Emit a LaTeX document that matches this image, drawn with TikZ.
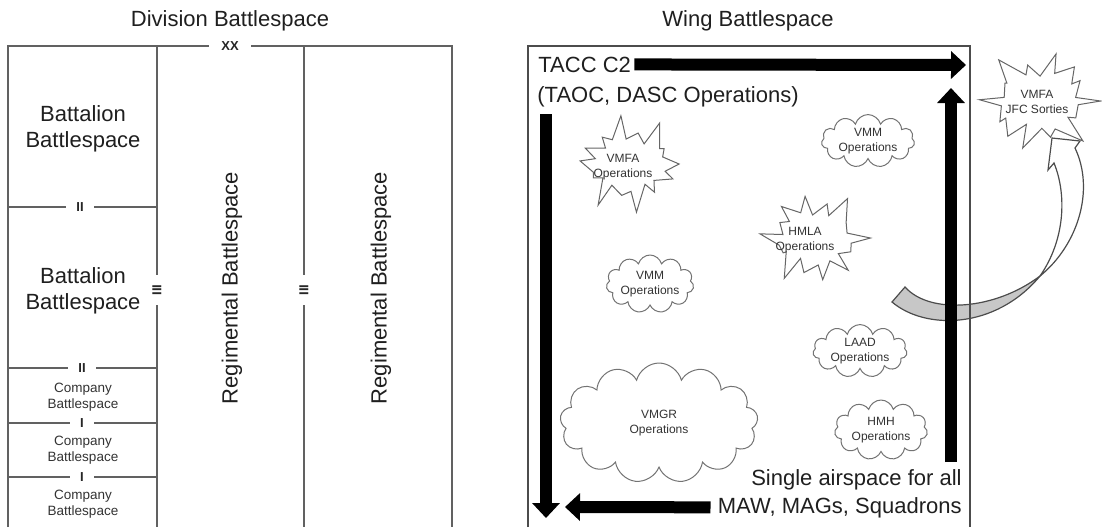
\documentclass[tikz,border=0pt]{standalone}
\usepackage{fontspec}
\setmainfont{Liberation Sans}
\usetikzlibrary{arrows.meta,shapes.symbols}
\newcommand\burstpoly[5]{%
  \draw[burstline,shift={(#1,#2)}] ({#3*(0.84+0.16*sin(#5))},0)
   \foreach \k [evaluate=\k as \ang using {\k*360/28+5*sin(\k*131+#5)},
                evaluate=\k as \fx using {ifthenelse(mod(\k,2)==0,0.82+0.18*sin(\k*77+#5),0.62+0.05*sin(\k*59+#5))},
                evaluate=\k as \fy using {ifthenelse(mod(\k,2)==0,0.82+0.18*sin(\k*77+#5),0.50+0.05*sin(\k*59+#5))}]
   in {1,...,27} { -- ({#3*\fx*cos(\ang)},{#4*\fy*sin(\ang)}) } -- cycle;}
\begin{document}
\begin{tikzpicture}[x=0.5pt,y=-0.5pt,
  divline/.style={draw=black!62,line width=1pt},
  boxline/.style={draw=black!70,line width=0.75pt},
  lvl/.style={fill=white,inner xsep=5pt,inner ysep=1pt,text=black!85,font=\fontsize{6.5}{7}\selectfont\bfseries},
  big/.style={text=black!88,font=\fontsize{11}{13}\selectfont,align=center},
  comp/.style={text=black!80,font=\fontsize{6.75}{8}\selectfont,align=center},
  tag/.style={text=black!80,font=\fontsize{6}{7.5}\selectfont,align=center,inner sep=0},
  puff/.style={cloud,cloud puffs=11,cloud ignores aspect,draw=black!55,line width=0.5pt,fill=white,inner sep=0},
  burstline/.style={draw=black!60,line width=0.5pt,fill=white,line join=miter},
  fat/.style={line width=6pt,-{Triangle[width=13.5pt,length=7.5pt]}},
  crescent/.style={fill=black!22,draw=black!70,line width=0.6pt},
  whitearr/.style={fill=white,draw=black!70,line width=0.6pt},
]
\useasboundingbox (0,0) rectangle (1102,527);

% ---------------- Division battlespace ----------------
\node[big] (divt) at (230,21) {Division Battlespace};
\draw[divline] (8,527) -- (8,46) -- (452,46) -- (452,527);
\draw[divline] (157,46) -- (157,527);
\draw[divline] (304,46) -- (304,527);
\foreach \yy in {207,368,423,477} \draw[divline] (8,\yy) -- (157,\yy);

\node[lvl,inner xsep=6pt] (xx) at (230,46) {XX};
\node[lvl] (ii1) at (80,207) {II};
\node[lvl] (ii2) at (82,368) {II};
\node[lvl] (i1) at (82,423) {I};
\node[lvl] (i2) at (82,477) {I};
\node[lvl,rotate=90] (iii1) at (157,290) {III};
\node[lvl,rotate=90] (iii2) at (304,290) {III};

\node[big] (bat1) at (83,129) {Battalion\\Battlespace};
\node[big] (bat2) at (83,291) {Battalion\\Battlespace};
\node[comp] (co1) at (83,397) {Company\\Battlespace};
\node[comp] (co2) at (83,450) {Company\\Battlespace};
\node[comp] (co3) at (83,504) {Company\\Battlespace};
\node[big,rotate=90] (reg1) at (232,288) {Regimental Battlespace};
\node[big,rotate=90] (reg2) at (381,288) {Regimental Battlespace};

% ---------------- Wing battlespace ----------------
\node[big] (wingt) at (748,21) {Wing Battlespace};

% curved block arrow out of the box
\draw[crescent] (892,302) .. controls (925,330) and (995,330) .. (1040,276)
   .. controls (995,310) and (930,315) .. (905,287) -- cycle;
\draw[whitearr] (1040,276) .. controls (1078,245) and (1095,190) .. (1075,148)
   -- (1080,141) -- (1052,138) -- (1048,170) -- (1054,163)
   .. controls (1067,195) and (1065,240) .. (1040,276) -- cycle;

\draw[boxline] (528,527) -- (528,46) -- (970,46) -- (970,527);

\node[big,anchor=base west,inner sep=0] (tacc) at (538,72) {TACC C2};
\node[big,anchor=base west,inner sep=0] (taoc) at (537,102) {(TAOC, DASC Operations)};
\node[big,anchor=base east,inner sep=0] (single) at (962,485) {Single airspace for all};
\node[big,anchor=base east,inner sep=0] (maw) at (962,513) {MAW, MAGs, Squadrons};

\coordinate (topend) at (966,65);
\coordinate (upfoot) at (951,462);
\coordinate (uptip) at (951,88);
\coordinate (dnhead) at (546,114);
\coordinate (dntip) at (546,518);
\coordinate (lefttip) at (565,507);
\draw[fat] ([xshift=1.5pt]tacc.east) -- (topend);
\draw[fat] (upfoot) -- (uptip);
\draw[fat] (dnhead) -- (dntip);
\draw[fat] ([xshift=-3.5pt]maw.west) -- (lefttip);

% starbursts
\burstpoly{629}{164}{56}{50}{20}
\node[tag] (vmfa) at (623,167) {VMFA\\Operations};
\burstpoly{815}{238}{56}{50}{70}
\node[tag] (hmla) at (805,240) {HMLA\\Operations};
\burstpoly{1040}{101}{63}{55}{130}
\node[tag] (jfc) at (1037,102) {VMFA\\JFC Sorties};

% clouds
\node[puff,tag,minimum width=46.5pt,minimum height=26pt] (vmm1) at (868,141) {VMM\\Operations};
\node[puff,tag,minimum width=40pt,minimum height=29pt] (vmm2) at (650,284) {VMM\\Operations};
\node[puff,tag,minimum width=47pt,minimum height=26pt] (laad) at (860,351) {LAAD\\Operations};
\node[puff,tag,cloud puffs=13,minimum width=99pt,minimum height=60pt] (vmgr) at (659,423) {VMGR\\Operations};
\node[puff,tag,minimum width=46.5pt,minimum height=30pt] (hmh) at (881,430) {HMH\\Operations};
\end{tikzpicture}
\end{document}
